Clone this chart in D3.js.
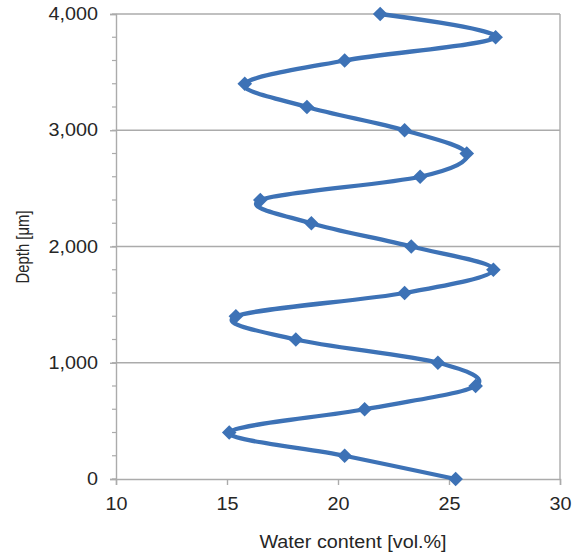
<!DOCTYPE html>
<html>
<head>
<meta charset="utf-8">
<script src="https://cdn.jsdelivr.net/npm/d3@7"></script>
<style>
  html, body { margin: 0; padding: 0; background: #fff; }
  svg { display: block; }
  text { font-family: "Liberation Sans", Arial, sans-serif; fill: #262626; }
</style>
</head>
<body>
<svg id="chart" width="577" height="557"></svg>
<script>
// Depth profile of water content (one sample every 200 µm)
const depths = [0, 200, 400, 600, 800, 1000, 1200, 1400, 1600, 1800, 2000,
                2200, 2400, 2600, 2800, 3000, 3200, 3400, 3600, 3800, 4000];
const waterContent = [25.3, 20.3, 15.1, 21.2, 26.2, 24.5, 18.1, 15.4, 23.0, 27.0, 23.3,
                      18.8, 16.5, 23.7, 25.8, 23.0, 18.6, 15.8, 20.3, 27.1, 21.9];
const xTicks = [10, 15, 20, 25, 30];
const yTicks = [0, 1000, 2000, 3000, 4000];
const yMinorTicks = d3.range(0, 4001, 200);

const svg = d3.select("#chart");
const plotLeft = 116, plotRight = 560, plotTop = 14, plotBottom = 479;
const gridColor = "#ababab";
const lineColor = "#3d72b6";
const stretch = 1.13; // horizontal widening of label glyphs

const x = d3.scaleLinear().domain([10, 30]).range([plotLeft, plotRight]);
const y = d3.scaleLinear().domain([0, 4000]).range([plotBottom, plotTop]);

// horizontal gridlines (include top border)
svg.append("g")
  .selectAll("line")
  .data(yTicks.filter(d => d > 0))
  .join("line")
  .attr("x1", plotLeft).attr("x2", plotRight)
  .attr("y1", d => y(d)).attr("y2", d => y(d))
  .attr("stroke", gridColor).attr("stroke-width", 1.4);

// right border
svg.append("line")
  .attr("x1", plotRight).attr("x2", plotRight).attr("y1", plotTop).attr("y2", plotBottom)
  .attr("stroke", gridColor).attr("stroke-width", 1.4);

// minor ticks on the depth axis
svg.append("g")
  .selectAll("line")
  .data(yMinorTicks)
  .join("line")
  .attr("x1", plotLeft - 4).attr("x2", plotLeft)
  .attr("y1", d => y(d)).attr("y2", d => y(d))
  .attr("stroke", gridColor).attr("stroke-width", 1.2);

function widen(sel) {
  sel.each(function () {
    const w = this.getComputedTextLength();
    d3.select(this).attr("textLength", w * stretch).attr("lengthAdjust", "spacingAndGlyphs");
  });
}

// y axis
const yAxis = svg.append("g")
  .attr("transform", `translate(${plotLeft},0)`)
  .call(d3.axisLeft(y).tickValues(yTicks).tickFormat(d3.format(",")).tickSize(6).tickPadding(12));
// x axis
const xAxis = svg.append("g")
  .attr("transform", `translate(0,${plotBottom})`)
  .call(d3.axisBottom(x).tickValues(xTicks).tickSize(6).tickPadding(13));

[yAxis, xAxis].forEach(g => {
  g.select(".domain").attr("stroke", gridColor).attr("stroke-width", 1.4);
  g.selectAll(".tick line").attr("stroke", gridColor).attr("stroke-width", 1.4);
  g.selectAll(".tick text")
    .attr("fill", "#262626")
    .style("font-family", "'Liberation Sans', Arial, sans-serif")
    .style("font-size", "17.5px")
    .call(widen);
});

// smoothed profile line
const pts = depths.map((d, i) => [x(waterContent[i]), y(d)]);
svg.append("path")
  .datum(pts)
  .attr("d", d3.line().curve(d3.curveCardinal.tension(0)))
  .attr("fill", "none")
  .attr("stroke", lineColor)
  .attr("stroke-width", 4.3)
  .attr("stroke-linejoin", "round");

// diamond markers
const r = 7.3;
svg.append("g")
  .selectAll("path")
  .data(depths.map((d, i) => ({ depth: d, w: waterContent[i] })))
  .join("path")
  .attr("transform", d => `translate(${x(d.w)},${y(d.depth)})`)
  .attr("d", `M0,${-r}L${r},0L0,${r}L${-r},0Z`)
  .attr("fill", lineColor);

// axis titles
svg.append("text")
  .attr("x", 353).attr("y", 548)
  .attr("text-anchor", "middle")
  .style("font-size", "17.5px")
  .text("Water content [vol.%]")
  .call(widen);

svg.append("text")
  .attr("transform", "translate(29,247) rotate(-90) scale(1,1.18)")
  .attr("text-anchor", "middle")
  .style("font-size", "16px")
  .attr("textLength", 73)
  .attr("lengthAdjust", "spacingAndGlyphs")
  .text("Depth [μm]");
</script>
</body>
</html>
